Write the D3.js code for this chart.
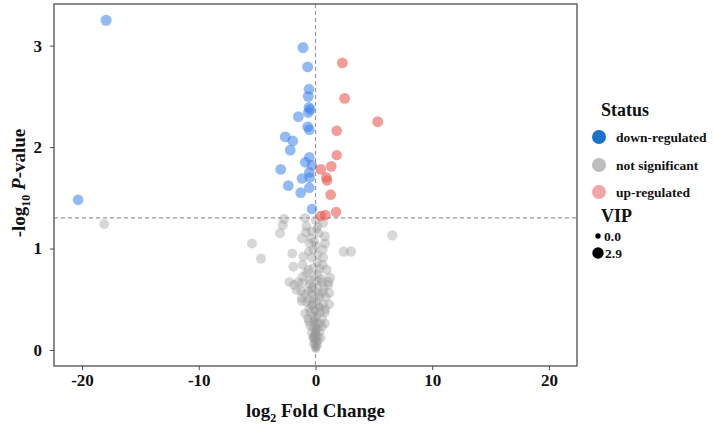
<!DOCTYPE html>
<html><head><meta charset="utf-8">
<script src="https://cdn.jsdelivr.net/npm/d3@7"></script>
<style>
body{margin:0;background:#fff;}
svg text{font-family:"Liberation Serif","Times New Roman",serif;font-weight:bold;}
</style></head>
<body><svg id="chart" width="714" height="426"></svg>
<script>
// ---- data ----
const downFC  = [-17.94,-20.34,-1.07,-0.67,-0.56,-0.62,-0.56,-0.45,-0.62,-1.47,-0.67,-0.53,-2.59,-1.95,-2.16,-0.53,-0.87,-0.30,-2.98,-0.53,-1.16,-0.50,-2.33,-0.53,-1.27,-0.30];
const downP   = [3.25,1.48,2.98,2.79,2.57,2.50,2.39,2.37,2.34,2.30,2.20,2.17,2.10,2.06,1.97,1.90,1.85,1.82,1.78,1.75,1.69,1.70,1.62,1.60,1.55,1.39];
const downVIP = [2.6,2.2,2.6,2.4,2.3,2.4,2.3,2.3,2.3,2.3,2.3,2.2,2.4,2.3,2.4,2.2,2.3,2.1,2.3,2.2,2.2,2.2,2.3,2.2,2.3,2.1];

const upFC  = [2.30,2.50,5.33,1.82,1.82,0.45,1.35,0.93,0.99,1.30,1.76,0.45,0.84];
const upP   = [2.83,2.48,2.25,2.16,1.92,1.78,1.81,1.70,1.67,1.53,1.36,1.32,1.33];
const upVIP = [2.4,2.4,2.5,2.2,2.0,2.3,2.3,2.2,2.1,2.3,2.1,2.2,2.2];

const nsFC = [-18.1,-2.70,-2.81,-0.90,0.00,0.67,-0.77,0.20,
  -3.04,-0.82,-1.17,-0.35,-0.40,0.81,6.58,0.30,0.10,
  -5.44,-0.53,0.81,0.62,-0.19,2.42,3.04,0.05,-0.10,
  -1.99,-1.05,-0.33,0.66,-4.67,0.20,-0.60,
  -1.90,-1.10,-0.62,0.61,0.96,0.15,-0.20,0.35,
  -1.10,-0.47,1.24,0.20,-0.15,0.50,-0.80,
  -2.24,-1.84,-1.47,-1.10,-0.47,0.54,1.10,1.10,-0.25,0.20,0.75,
  -1.63,-1.23,-0.62,0.65,1.18,-0.90,-0.30,0.10,0.35,0.90,-1.20,-0.55,
  -1.18,-0.75,0.65,1.18,-0.30,0.10,0.35,-0.55,0.85,-0.10,
  -0.90,-0.47,0.40,0.82,-0.20,0.15,0.60,-0.65,-0.05,
  -0.47,-0.05,0.40,0.82,-0.25,0.20,-0.60,0.60,
  -0.19,0.24,-0.35,0.40,0.00,-0.10,0.10,0.50,
  -0.10,0.10,0.00,-0.05,0.05,0.20,-0.20,0.00,
  -0.30,0.30,0.00,-0.15,0.15,0.05,-0.05,0.25,-0.25,0.10,-0.10,0.00,0.35,-0.35,0.15,-0.15];
const nsP = [1.24,1.29,1.23,1.30,1.28,1.25,1.22,1.22,
  1.15,1.16,1.10,1.17,1.10,1.12,1.13,1.15,1.19,
  1.05,1.05,1.05,0.99,0.99,0.97,0.97,1.03,1.07,
  0.95,0.92,0.91,0.91,0.90,0.94,0.97,
  0.82,0.84,0.79,0.84,0.79,0.86,0.81,0.80,
  0.72,0.69,0.71,0.75,0.73,0.70,0.76,
  0.67,0.64,0.67,0.66,0.65,0.67,0.67,0.64,0.62,0.63,0.61,
  0.59,0.58,0.58,0.57,0.56,0.55,0.55,0.57,0.52,0.52,0.51,0.50,
  0.48,0.47,0.45,0.45,0.44,0.48,0.42,0.41,0.40,0.40,
  0.36,0.37,0.37,0.37,0.33,0.34,0.31,0.31,0.30,
  0.24,0.26,0.26,0.26,0.22,0.21,0.28,0.23,
  0.13,0.13,0.17,0.18,0.18,0.11,0.15,0.12,
  0.07,0.08,0.04,0.02,0.01,0.05,0.06,0.10,
  0.45,0.43,0.38,0.29,0.27,0.20,0.16,0.09,0.12,0.03,0.14,0.22,0.55,0.60,0.68,0.50];
const nsVIP = [1.5,1.8,1.8,1.6,1.2,1.4,1.5,1.0,
  1.8,1.6,1.7,1.2,1.4,1.8,2.0,1.0,0.8,
  1.7,1.4,1.8,1.6,1.4,2.0,2.0,1.0,0.9,
  1.6,1.5,1.3,1.5,1.7,0.9,1.0,
  1.6,1.5,1.4,1.6,1.7,1.0,1.1,1.2,
  1.5,1.4,1.8,1.0,1.2,1.3,1.2,
  1.5,1.6,1.5,1.4,1.3,1.4,1.6,1.4,1.0,1.0,1.2,
  1.5,1.4,1.3,1.3,1.5,1.2,1.1,1.0,1.1,1.3,1.3,1.2,
  1.4,1.3,1.3,1.4,1.1,0.9,1.0,1.2,1.2,1.0,
  1.3,1.2,1.2,1.3,1.0,1.0,1.1,1.2,0.9,
  1.2,1.0,1.1,1.2,1.0,1.0,1.1,1.0,
  1.0,1.0,1.0,1.0,0.9,0.9,0.8,0.9,
  0.8,0.8,0.7,0.6,0.6,0.7,0.7,0.8,
  1.0,1.0,0.9,1.0,1.0,0.9,0.9,0.8,0.9,0.8,0.9,1.0,1.1,1.1,1.0,1.0];

const xTicks = [-20,-10,0,10,20];
const yTicks = [0,1,2,3];
const statusLabels = ["down-regulated","not significant","up-regulated"];
const vipLegend = [0.0, 2.9];

// ---- layout ----
const svg = d3.select("#chart");
const L = 54, R = 577, T = 4, B = 366;
const x = d3.scaleLinear().domain([-22.4, 22.4]).range([L, R]);
const y = d3.scaleLinear().domain([-0.158, 3.41]).range([B, T]);
const rS = d3.scaleSqrt().domain([0, 2.9]).range([2.7, 5.7]);

// reference lines
svg.append("line").attr("x1", x(0)).attr("x2", x(0)).attr("y1", T).attr("y2", B)
  .attr("stroke", "#9a9a9a").attr("stroke-width", 1.2).attr("stroke-dasharray", "4,3");
svg.append("line").attr("x1", L).attr("x2", R).attr("y1", y(1.301)).attr("y2", y(1.301))
  .attr("stroke", "#9a9a9a").attr("stroke-width", 1.2).attr("stroke-dasharray", "4,3");

function pts(fc, p, vip, color, op) {
  const d = fc.map((v, i) => ({fc: v, p: p[i], vip: vip[i]}));
  svg.append("g").selectAll("circle").data(d).join("circle")
    .attr("cx", d => x(d.fc)).attr("cy", d => y(d.p)).attr("r", d => rS(d.vip))
    .attr("fill", color).attr("fill-opacity", op);
}
pts(nsFC, nsP, nsVIP, "#969696", 0.38);
pts(downFC, downP, downVIP, "#3C82EB", 0.55);
pts(upFC, upP, upVIP, "#E8574C", 0.58);

// border
svg.append("rect").attr("x", L).attr("y", T).attr("width", R - L).attr("height", B - T)
  .attr("fill", "none").attr("stroke", "#4d4d4d").attr("stroke-width", 1.3);

// axes
const xa = svg.append("g").attr("transform", `translate(0,${B})`)
  .call(d3.axisBottom(x).tickValues(xTicks).tickFormat(d => String(d)).tickSize(4).tickPadding(4));
const ya = svg.append("g").attr("transform", `translate(${L},0)`)
  .call(d3.axisLeft(y).tickValues(yTicks).tickFormat(d => String(d)).tickSize(4).tickPadding(8));
[xa, ya].forEach(a => {
  a.select(".domain").remove();
  a.selectAll(".tick line").attr("stroke", "#4d4d4d");
  a.selectAll(".tick text").attr("font-size", 17).attr("fill", "#111")
    .style("font-family", '"Liberation Serif","Times New Roman",serif').style("font-weight", "bold");
});

// axis titles
const xt = svg.append("text").attr("x", x(0)).attr("y", 417).attr("text-anchor", "middle")
  .attr("font-size", 19).attr("fill", "#111");
xt.append("tspan").text("log");
xt.append("tspan").text("2").attr("font-size", 12).attr("dy", 5);
xt.append("tspan").text(" Fold Change").attr("dy", -5);

const yt = svg.append("text").attr("transform", `translate(25,183) rotate(-90)`)
  .attr("text-anchor", "middle").attr("font-size", 19).attr("fill", "#111");
yt.append("tspan").text("-log");
yt.append("tspan").text("10").attr("font-size", 12).attr("dy", 5);
yt.append("tspan").text(" ").attr("dy", -5);
yt.append("tspan").text("P").attr("font-style", "italic");
yt.append("tspan").text("-value");

// legend
const lg = svg.append("g");
lg.append("text").attr("x", 601).attr("y", 116).attr("font-size", 18).attr("fill", "#111").text("Status");
const keyCols = ["#1a72c9", "#bdbdbd", "#f4a5a5"];
const keyY = [137, 165, 192];
statusLabels.forEach((s, i) => {
  lg.append("circle").attr("cx", 599).attr("cy", keyY[i]).attr("r", 7).attr("fill", keyCols[i]);
  lg.append("text").attr("x", 616).attr("y", keyY[i] + 4.5).attr("font-size", 13.5).attr("fill", "#111").text(s);
});
lg.append("text").attr("x", 601).attr("y", 222).attr("font-size", 18).attr("fill", "#111").text("VIP");
const vipY = [236, 253];
vipLegend.forEach((v, i) => {
  lg.append("circle").attr("cx", 598).attr("cy", vipY[i]).attr("r", rS(v)).attr("fill", "#000");
  lg.append("text").attr("x", 604 + (i ? 1 : 0)).attr("y", vipY[i] + 4.5).attr("font-size", 13.5)
    .attr("fill", "#111").text(v.toFixed(1));
});
</script></body></html>
